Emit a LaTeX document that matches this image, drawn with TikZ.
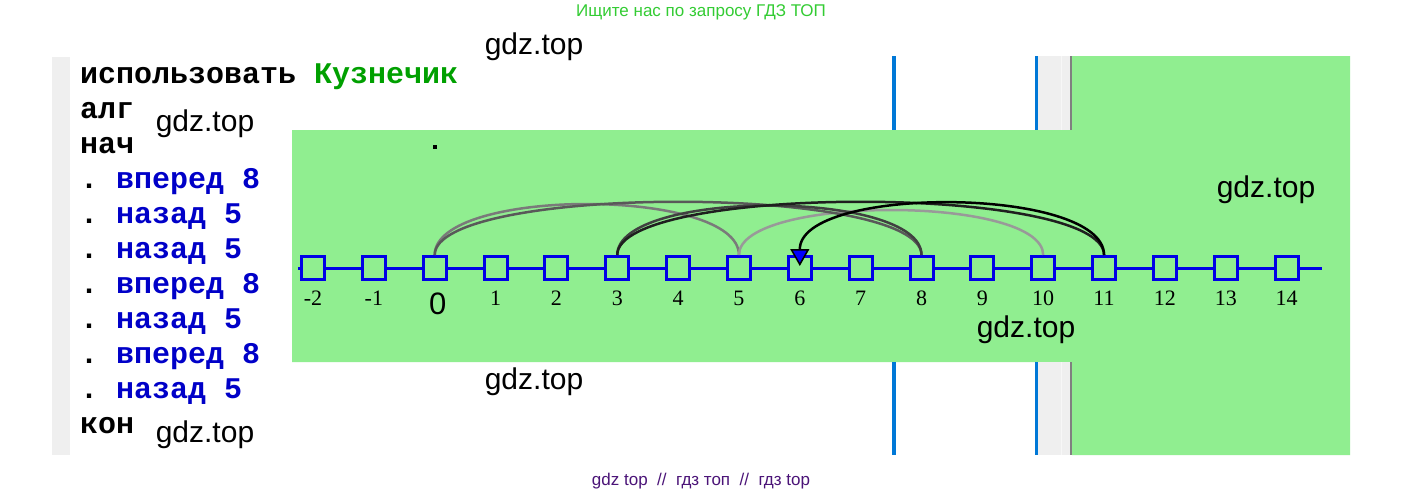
\documentclass[tikz,border=0pt]{standalone}
\usepackage{fontspec}
\setmainfont{Liberation Sans}
\newfontfamily\codefont{Liberation Mono}
\newfontfamily\numfont{Liberation Serif}
\usepackage{xcolor}
\usepackage{tikz}
\usetikzlibrary{arrows.meta, positioning}
\definecolor{fieldgreen}{RGB}{144, 238, 144}
\definecolor{winblue}{RGB}{0, 120, 215}
\definecolor{stripgrey}{RGB}{239, 239, 239}
\definecolor{kwgreen}{RGB}{0, 160, 0}
\definecolor{cmdblue}{RGB}{0, 0, 200}
\definecolor{cellblue}{RGB}{0, 0, 230}
\definecolor{hintgreen}{RGB}{51, 204, 51}
\definecolor{footpurple}{RGB}{75, 20, 120}

\begin{document}
\begin{tikzpicture}[
    x=1pt, y=-1pt,
    code/.style={anchor=base west, inner sep=0pt, font=\codefont\bfseries\fontsize{30}{30}\selectfont},
    cell/.style={rectangle, draw=cellblue, line width=3pt, fill=fieldgreen, minimum size=23pt, inner sep=0pt},
    num/.style={inner sep=0pt, font=\numfont\fontsize{22}{22}\selectfont},
    wmark/.style={inner sep=0pt, font=\fontsize{30}{30}\selectfont},
    hop/.style={line width=2.5pt}
]
    \fill[white] (0,0) rectangle (1403,496);
    \useasboundingbox (0,0) rectangle (1403,496);

    % Panels
    \fill[stripgrey] (52,57) rectangle (70,455);
    \fill[fieldgreen] (292,130) -| (1072,56) -| (1350,455) -| (1072,362) -| (292,130) -- cycle;
    \draw[winblue, line width=4pt] (894,56) -- (894,130) (894,362) -- (894,455);
    \draw[winblue, line width=3pt] (1036.5,56) -- (1036.5,130) (1036.5,362) -- (1036.5,455);
    \fill[stripgrey] (1038,56) rectangle (1071,130);
    \fill[stripgrey] (1038,362) rectangle (1071,455);
    \draw[white!97!black, line width=1pt] (1061,56) -- (1061,130) (1061,362) -- (1061,455);
    \draw[gray, line width=2pt] (1071,56) -- (1071,130) (1071,362) -- (1071,455);

    % Program
    \node[code] (c0) at (80,83) {использовать \textcolor{kwgreen}{Кузнечик}};
    \node[code] (c1) at (80,118) {алг};
    \node[code] (c2) at (80,153) {нач};
    \foreach \cmd [count=\k from 3] in {вперед 8,назад 5,назад 5,вперед 8,назад 5,вперед 8,назад 5}
        \node[code] (c\k) at (80,{83+35*\k}) {.~\textcolor{cmdblue}{\cmd}};
    \node[code] (c10) at (80,433) {кон};

    % Number line
    \coordinate (lstart) at (298,268);
    \coordinate (lend) at (1322,268);
    \draw[cellblue, line width=3pt] (lstart) -- (lend);
    \foreach \i in {-2,...,14}
        \node[cell] (n\i) at ({313+60.85*(\i+2)},268) {};
    \foreach \i in {-2,-1,1,2,...,14}
        \node[num, below=10pt of n\i] (t\i) {\i};
    \node[inner sep=0pt, font=\fontsize{31}{31}\selectfont, below=12pt of n0, xshift=3pt] (t0) {0};
    \fill (433,145) rectangle (437,149);

    % Jumps
    \draw[hop, draw=black!52] (n0.north) .. controls +(0,-68) and +(0,-68) .. (n5.north);
    \draw[hop, draw=black!40] (n5.north) .. controls +(0,-60) and +(0,-60) .. (n10.north);
    \draw[hop, draw=black!65] (n0.north) .. controls +(0,-71) and +(0,-71) .. (n8.north);
    \draw[hop, draw=black!75] (n8.north) .. controls +(0,-66) and +(0,-66) .. (n3.north);
    \draw[hop, draw=black!88] (n3.north) .. controls +(0,-71) and +(0,-71) .. (n11.north);
    \draw[hop, -{Triangle[length=17pt, width=19pt, fill=blue, line width=1.5pt]}] (n11.north) .. controls +(0,-69) and +(0,-81) .. ([yshift=2pt]n6.center);

    % Watermarks
    \node[wmark] (w1) at (534,47) {gdz.top};
    \node[wmark] (w2) at (205,124) {gdz.top};
    \node[wmark] (w3) at (1266,190) {gdz.top};
    \node[wmark] (w4) at (1026,330) {gdz.top};
    \node[wmark] (w5) at (534,382) {gdz.top};
    \node[wmark] (w6) at (205,435) {gdz.top};
    \node[inner sep=0pt, font=\fontsize{17}{17}\selectfont, text=hintgreen] (hint) at (701,12) {Ищите нас по запросу ГДЗ ТОП};
    \node[inner sep=0pt, font=\fontsize{17}{17}\selectfont, text=footpurple] (foot) at (701,481) {gdz top~~//~~гдз топ~~//~~гдз top};
\end{tikzpicture}
\end{document}
